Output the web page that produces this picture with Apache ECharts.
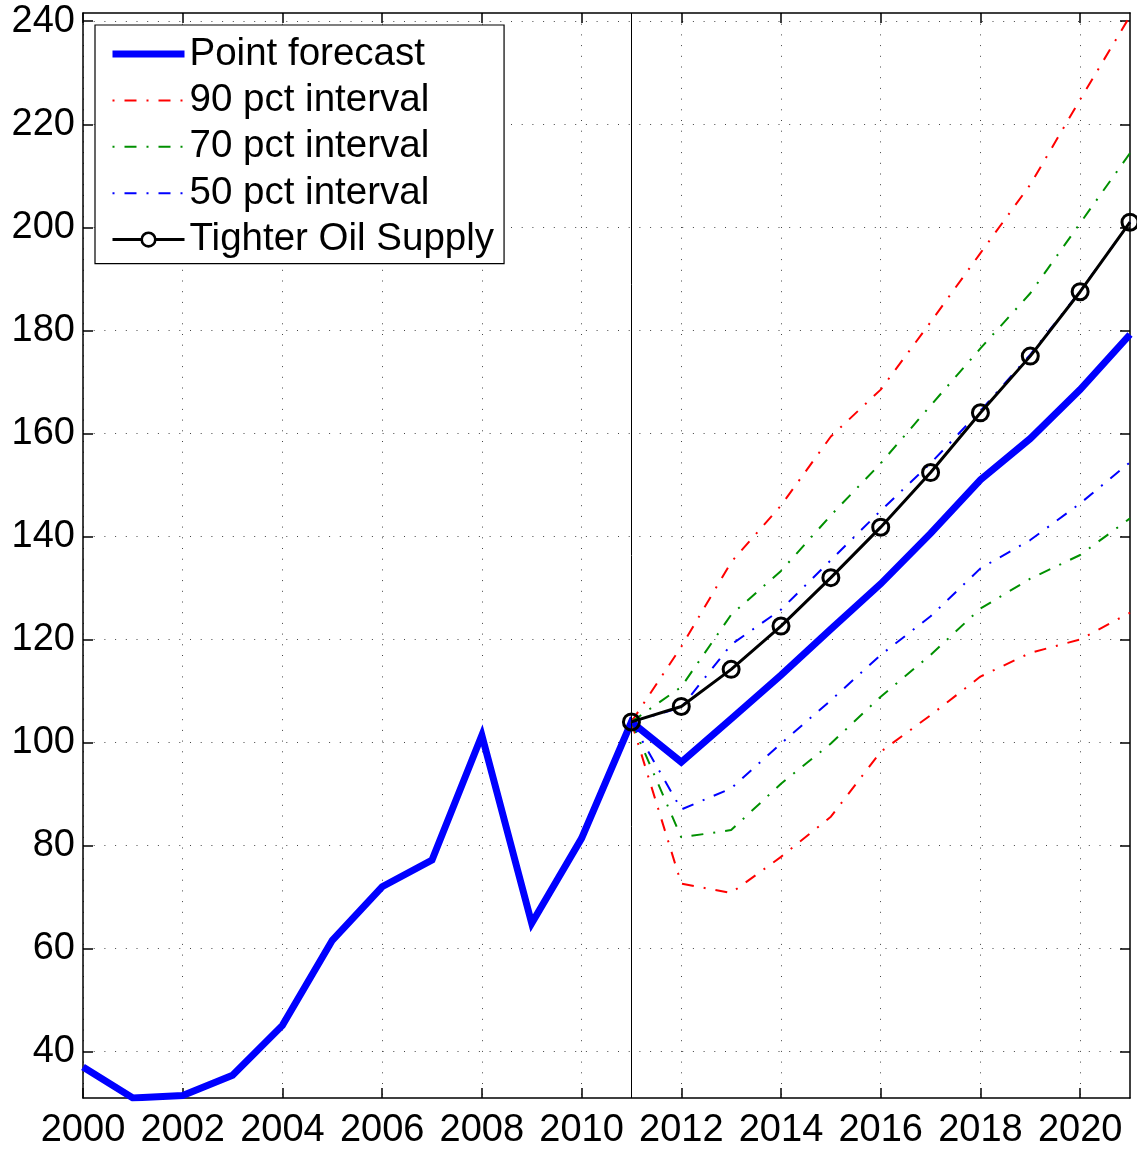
<!DOCTYPE html>
<html>
<head>
<meta charset="utf-8">
<script src="https://cdn.jsdelivr.net/npm/echarts@6/dist/echarts.min.js"></script>
<style>
html,body{margin:0;padding:0;background:#fff;}
#chart{width:1137px;height:1151px;}
</style>
</head>
<body>
<div id="chart"></div>
<script>
// ---- data ----
const histYears = [2000,2001,2002,2003,2004,2005,2006,2007,2008,2009,2010,2011];
const histValues = [37.0,31.0,31.5,35.4,45.1,61.6,72.0,77.2,101.4,64.9,81.4,104.0];
const fcYears = [2011,2012,2013,2014,2015,2016,2017,2018,2019,2020,2021];
const pointForecast = [104.0,96.2,104.6,113.1,122.0,130.8,140.6,151.0,159.0,168.5,179.2];
const p90Upper = [104,118.6,135.0,146.0,159.4,168.5,181.6,195.0,208.3,224.8,241.0];
const p90Lower = [104,72.6,70.8,77.8,85.6,98.2,105.3,112.8,117.4,120.0,125.2];
const p70Upper = [104,110.8,124.8,133.3,144.1,154.2,165.4,176.5,187.2,200.8,214.4];
const p70Lower = [104,81.6,83.0,92.0,99.8,108.9,117.0,126.0,131.8,136.4,143.5];
const p50Upper = [104,106.8,119.0,125.8,135.4,145.0,154.2,164.4,175.3,187.6,201.0];
const p50Lower = [104,87.0,91.1,99.8,108.2,117.0,124.5,133.8,139.3,146.4,154.4];
const tighterSupply = [104,107.0,114.2,122.6,132.0,141.8,152.4,164.0,175.0,187.5,201.0];
const xTicks = [2000,2002,2004,2006,2008,2010,2012,2014,2016,2018,2020];
const yTicks = [40,60,80,100,120,140,160,180,200,220,240];
const forecastStart = 2011;
const names = ['Point forecast','90 pct interval','70 pct interval','50 pct interval','Tighter Oil Supply'];

// ---- build ----
const zip = (xs, ys) => xs.map((x, i) => [x, ys[i]]);
const pointSeries = zip(histYears, histValues).concat(zip(fcYears.slice(1), pointForecast.slice(1)));
const FONT = '"Liberation Sans", Arial, Helvetica, sans-serif';
const dashDot = [12, 10, 2, 10];
const RED = '#ff0000', GREEN = '#009000', BLUE = '#0000ff';

function band(name, color, data) {
  return {
    type: 'line', name: name, data: data, symbol: 'none', showSymbol: false,
    lineStyle: { color: color, width: 2, type: dashDot },
    itemStyle: { color: color },
    z: 3
  };
}
function legendLine(name, color, width, type) {
  return { name: name, itemStyle: { opacity: 0 }, lineStyle: { color: color, width: width, type: type } };
}

const chart = echarts.init(document.getElementById('chart'), null, { renderer: 'canvas' });
const axisLineStyle = { color: '#000', width: 1.5 };
const gridLine = { show: true, lineStyle: { color: '#444', width: 1, type: [1, 9.7] } };
const option = {
  animation: false,
  backgroundColor: '#fff',
  textStyle: { fontFamily: FONT },
  grid: { left: 83, right: 7, top: 13, bottom: 53, containLabel: false },
  legend: {
    data: [
      legendLine(names[0], BLUE, 7, 'solid'),
      legendLine(names[1], RED, 2, [2, 10, 12, 10]),
      legendLine(names[2], GREEN, 2, [2, 10, 12, 10]),
      legendLine(names[3], BLUE, 2, [2, 10, 12, 10]),
      { name: names[4], lineStyle: { color: '#000', width: 3, type: 'solid' },
        itemStyle: { color: '#fff', borderColor: '#000', borderWidth: 2.6 } }
    ],
    orient: 'vertical',
    left: 95, top: 25,
    backgroundColor: '#fff',
    borderColor: '#000', borderWidth: 1.2, borderRadius: 0,
    padding: [7, 10, 2, 14],
    itemWidth: 72, itemHeight: 17, itemGap: 2.4,
    textStyle: { fontSize: 38.5, color: '#000', fontFamily: FONT, lineHeight: 44, padding: [0, 0, 0, 0] },
    selectedMode: false
  },
  xAxis: [{
    type: 'value', min: 2000, max: 2021, position: 'bottom',
    axisLine: { show: true, lineStyle: axisLineStyle, onZero: false },
    axisTick: { show: true, inside: true, length: 10, lineStyle: axisLineStyle, customValues: xTicks },
    axisLabel: { customValues: xTicks, fontSize: 38, color: '#000', margin: 14, fontFamily: FONT,
                 formatter: v => String(v) },
    splitLine: gridLine
  }, {
    type: 'value', min: 2000, max: 2021, position: 'top',
    axisLine: { show: true, lineStyle: axisLineStyle, onZero: false },
    axisTick: { show: true, inside: true, length: 10, lineStyle: axisLineStyle, customValues: xTicks },
    axisLabel: { show: false },
    splitLine: { show: false }
  }],
  yAxis: [{
    type: 'value', min: 31, max: 241.6, position: 'left',
    axisLine: { show: true, lineStyle: axisLineStyle, onZero: false },
    axisTick: { show: true, inside: true, length: 10, lineStyle: axisLineStyle, customValues: yTicks },
    axisLabel: { customValues: yTicks, fontSize: 38, color: '#000', margin: 8, fontFamily: FONT },
    splitLine: gridLine
  }, {
    type: 'value', min: 31, max: 241.6, position: 'right',
    axisLine: { show: true, lineStyle: axisLineStyle, onZero: false },
    axisTick: { show: true, inside: true, length: 10, lineStyle: axisLineStyle, customValues: yTicks },
    axisLabel: { show: false },
    splitLine: { show: false }
  }],
  series: [
    {
      type: 'line', name: names[0], data: pointSeries, symbol: 'none', showSymbol: false,
      lineStyle: { color: BLUE, width: 7, join: 'miter' }, itemStyle: { color: BLUE }, z: 2,
      markLine: {
        silent: true, symbol: 'none', label: { show: false },
        lineStyle: { color: '#000', width: 1, type: 'solid' },
        data: [{ xAxis: forecastStart }]
      }
    },
    band(names[1], RED, zip(fcYears, p90Upper)),
    band(names[1], RED, zip(fcYears, p90Lower)),
    band(names[2], GREEN, zip(fcYears, p70Upper)),
    band(names[2], GREEN, zip(fcYears, p70Lower)),
    band(names[3], BLUE, zip(fcYears, p50Upper)),
    band(names[3], BLUE, zip(fcYears, p50Lower)),
    {
      type: 'line', name: names[4], data: zip(fcYears, tighterSupply),
      symbol: 'circle', symbolSize: 16, showSymbol: true,
      lineStyle: { color: '#000', width: 3 },
      itemStyle: { color: 'rgba(255,255,255,0)', borderColor: '#000', borderWidth: 3 },
      z: 5
    }
  ]
};
chart.setOption(option);
</script>
</body>
</html>
